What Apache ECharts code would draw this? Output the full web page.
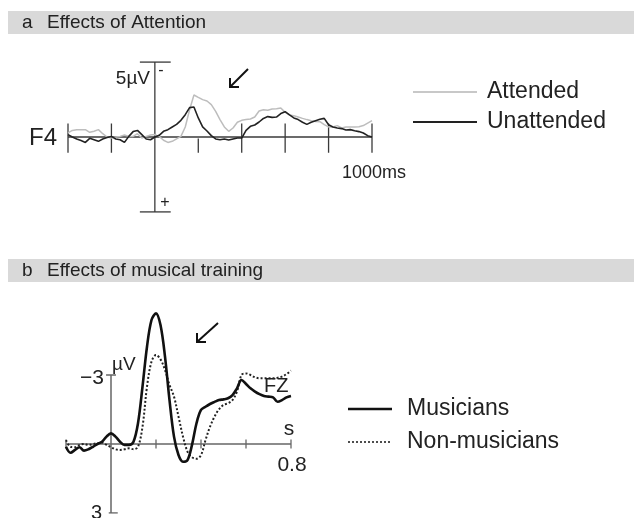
<!DOCTYPE html>
<html><head><meta charset="utf-8">
<script src="https://cdn.jsdelivr.net/npm/echarts@6/dist/echarts.min.js"></script>
<style>html,body{margin:0;padding:0;background:#fff}#c{width:634px;height:518px}</style>
</head><body><div id="c"></div>
<script>
// Panel a: time in ms, amplitude in µV (negative plotted upward)
const timeA = [-400,-380,-360,-340,-320,-300,-280,-260,-240,-220,-200,-180,-160,-140,-120,-100,-80,-60,-40,-20,
  0,20,40,60,80,100,120,140,160,180,200,220,240,260,280,300,320,340,360,380,400,
  420,440,460,480,500,520,540,560,580,600,620,640,660,680,700,720,740,760,780,800,
  820,840,860,880,900,920,940,960,980,1000];
const attended = [-0.27,-0.44,-0.49,-0.49,-0.49,-0.31,-0.38,-0.49,-0.22,0,0.07,0,-0.04,-0.13,-0.04,-0.04,-0.22,0.07,-0.04,-0.13,
  -0.16,-0.04,0.22,0.36,0.29,0.13,-0.04,-0.67,-1.82,-2.8,-2.64,-2.49,-2.4,-2.16,-1.71,-1.16,-0.67,-0.38,-0.6,-0.98,-1.11,
  -1.16,-1.2,-1.33,-1.73,-1.82,-1.78,-1.87,-1.89,-1.93,-1.64,-1.47,-1.42,-1.33,-1.24,-1.16,-1.09,-1.04,-1.02,-0.82,-0.67,
  -0.67,-0.76,-0.6,-0.67,-0.67,-0.67,-0.69,-0.76,-0.93,-1.09];
const unattended = [-0.16,0,0.13,0.24,0.36,0.09,0.18,0.29,0.13,0.04,-0.04,0.13,0.18,0.36,-0.04,-0.36,-0.44,-0.16,0.13,0.18,
  0,-0.11,-0.38,-0.49,-0.67,-0.84,-1.11,-1.49,-1.96,-2.0,-1.27,-0.67,-0.4,-0.09,0.13,0.18,0.13,0.2,0.13,0.07,0.07,
  -0.44,-0.71,-0.8,-1.0,-1.24,-1.36,-1.31,-1.33,-1.56,-1.69,-1.47,-1.27,-1.16,-0.98,-0.84,-0.98,-1.09,-1.18,-1.24,-0.82,
  -0.67,-0.6,-0.56,-0.47,-0.49,-0.42,-0.36,-0.27,-0.09,0];
const ticksA = [-400,-200,200,400,600,800,1000];

// Panel b: time in s, amplitude in µV (negative plotted upward)
const timeB = [-0.2,-0.18,-0.16,-0.14,-0.12,-0.1,-0.08,-0.06,-0.04,-0.02,0,0.02,0.04,0.06,0.08,0.1,0.12,0.14,0.16,0.18,
  0.2,0.22,0.24,0.26,0.28,0.3,0.32,0.34,0.36,0.38,0.4,0.42,0.44,0.46,0.48,0.5,0.52,0.54,0.56,0.58,0.6,
  0.62,0.64,0.66,0.68,0.7,0.72,0.74,0.76,0.78,0.8];
const musicians = [0.12,0.38,0.26,0.14,0.29,0.23,0.12,0,-0.1,-0.32,-0.46,-0.32,-0.1,0.04,0.04,-0.1,-0.9,-2.49,-4.23,-5.39,
  -5.68,-5.17,-3.8,-1.91,-0.32,0.48,0.77,0.7,0.04,-0.9,-1.48,-1.62,-1.74,-1.83,-1.91,-1.94,-1.99,-2.13,-2.42,-2.78,-2.61,
  -2.42,-2.28,-2.17,-2.09,-2.06,-2.03,-1.84,-1.91,-2.03,-2.09];
const nonMusicians = [-0.17,0.12,0.14,0.04,0,0.04,0,-0.03,-0.06,0.04,0.14,0.23,0.26,0.23,0.19,0.23,0.12,-0.75,-2.49,-3.58,
  -3.87,-3.68,-3.22,-2.57,-2.06,-1.19,-0.32,0.33,0.58,0.64,0.48,-0.17,-0.75,-1.19,-1.51,-1.7,-1.77,-1.91,-2.28,-3.0,-3.07,
  -3.0,-2.9,-2.86,-2.86,-2.86,-2.86,-2.88,-2.93,-3.04,-3.19];
const ticksB = [-0.2,0.2,0.4,0.6,0.8];

const FONT = '"Liberation Sans", Arial, sans-serif';
const zip = (xs, ys) => xs.map((x, i) => [x, ys[i]]);

function seg(g, pts, color, w, z) {
  return {type:'line', xAxisIndex:g, yAxisIndex:g, data:pts, symbol:'none', silent:true,
    lineStyle:{color:color, width:w}, z:z||2, animation:false};
}

const axA = '#3a3a3a', axB = '#666';
const series = [];
// Panel a axes
series.push(seg(0, [[-400,0],[1000,0]], axA, 1.3));
series.push(seg(0, [[0,-5],[0,5]], axA, 1.3));
series.push(seg(0, [[-69,-5],[73,-5]], axA, 1.3));
series.push(seg(0, [[-69,5],[73,5]], axA, 1.3));
ticksA.forEach(t => series.push(seg(0, [[t, t===200?0.1:-0.9],[t,1.05]], axA, 1.3)));
// Panel a traces
series.push({type:'line', name:'Attended', xAxisIndex:0, yAxisIndex:0, data:zip(timeA, attended), symbol:'none',
  lineStyle:{color:'#bdbdbd', width:1.5}, z:3, animation:false});
series.push({type:'line', name:'Unattended', xAxisIndex:0, yAxisIndex:0, data:zip(timeA, unattended), symbol:'none',
  lineStyle:{color:'#222', width:1.6}, z:4, animation:false});
// Panel b axes
series.push(seg(1, [[-0.2,0],[0.8,0]], axB, 1.5));
series.push(seg(1, [[0,-3],[0,3]], axB, 1.5));
series.push(seg(1, [[-0.022,-3],[0.022,-3]], axB, 1.5));
series.push(seg(1, [[-0.01,3],[0.03,3]], axB, 1.5));
ticksB.forEach(t => series.push(seg(1, [[t,-0.2],[t,0.2]], axB, 1.3)));
// Panel b traces
series.push({type:'line', name:'Non-musicians', xAxisIndex:1, yAxisIndex:1, data:zip(timeB, nonMusicians), symbol:'none',
  smooth:0.35, lineStyle:{color:'#222', width:2, type:[2,2]}, z:3, animation:false});
series.push({type:'line', name:'Musicians', xAxisIndex:1, yAxisIndex:1, data:zip(timeB, musicians), symbol:'none',
  smooth:0.35, lineStyle:{color:'#111', width:2.6}, z:4, animation:false});

function txt(x, y, s, size, align, extra) {
  return Object.assign({type:'text', x:x, y:y, silent:true,
    style:{text:s, font:size+'px '+FONT, fill:'#222', textAlign:align||'left', textVerticalAlign:'middle', verticalAlign:'middle'}}, extra||{});
}
function ln(x1,y1,x2,y2,color,w,dash){
  return {type:'line', silent:true, shape:{x1:x1,y1:y1,x2:x2,y2:y2}, style:{stroke:color, lineWidth:w, lineDash:dash||null}};
}
function arrow(x1,y1,x2,y2){
  return [ln(x1,y1,x2,y2,'#111',2),
    {type:'polyline', silent:true, shape:{points:[[x2,y2-9],[x2,y2],[x2+9,y2]]}, style:{stroke:'#111', lineWidth:2, fill:null}}];
}

const graphic = [
  {type:'rect', silent:true, shape:{x:8,y:11,width:626,height:23}, style:{fill:'#d9d9d9'}},
  txt(22, 22.5, 'a', 19), txt(47, 22.5, 'Effects of Attention', 19),
  {type:'rect', silent:true, shape:{x:8,y:259,width:626,height:23}, style:{fill:'#d9d9d9'}},
  txt(22, 270.5, 'b', 19), txt(47, 270.5, 'Effects of musical training', 19),
  // panel a annotations
  txt(150, 79, '5\u00b5V', 19, 'right'),
  txt(161, 71, '-', 16, 'center'),
  txt(165, 203, '+', 16, 'center'),
  txt(29, 138, 'F4', 24),
  txt(342, 173, '1000ms', 18),
  ...arrow(248,69,230,87),
  ln(413,92,477,92,'#c8c8c8',2), txt(487, 92, 'Attended', 23),
  ln(413,122,477,122,'#222',2), txt(487, 122, 'Unattended', 23),
  // panel b annotations
  txt(104, 378, '\u22123', 21, 'right'),
  txt(112, 365, '\u00b5V', 19),
  txt(102, 513, '3', 20, 'right'),
  txt(289, 429, 's', 21, 'center'),
  txt(292, 465, '0.8', 21, 'center'),
  txt(264, 386, 'FZ', 20),
  ...arrow(218,323,197,342),
  ln(348,409,392,409,'#111',2.6), txt(407, 409, 'Musicians', 23),
  ln(348,442,392,442,'#222',1.6,[2,2]), txt(407, 442, 'Non-musicians', 23)
];

const chart = echarts.init(document.getElementById('c'), null, {renderer:'canvas'});
chart.setOption({
  animation:false,
  backgroundColor:'#fff',
  grid:[{left:68, top:62, width:304, height:150}, {left:66, top:306, width:225, height:207}],
  xAxis:[{type:'value', gridIndex:0, min:-400, max:1000, show:false},
         {type:'value', gridIndex:1, min:-0.2, max:0.8, show:false}],
  yAxis:[{type:'value', gridIndex:0, min:-5, max:5, inverse:true, show:false},
         {type:'value', gridIndex:1, min:-6, max:3, inverse:true, show:false}],
  series:series,
  graphic:graphic
});
</script></body></html>
